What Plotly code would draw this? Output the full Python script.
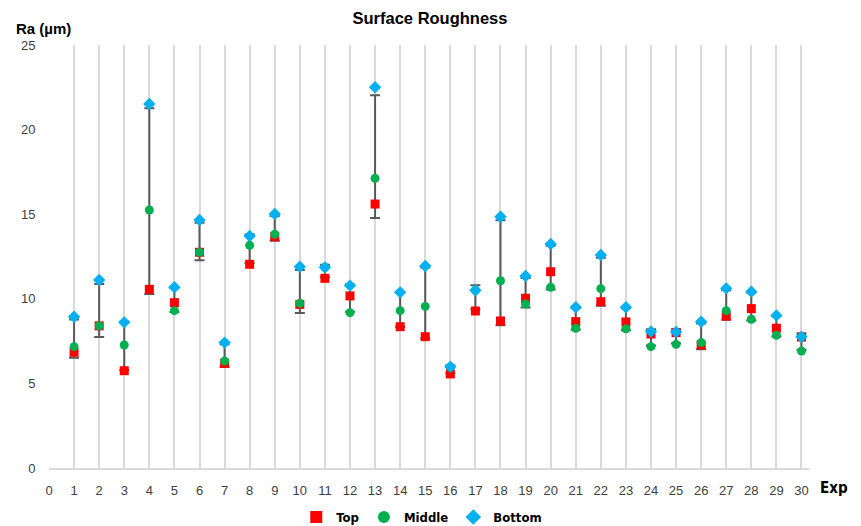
import numpy as np
import plotly.graph_objects as go

exp = list(range(1, 31))
top = [6.84, 8.4, 5.75, 10.56, 9.77, 12.75, 6.19, 12.04, 13.67, 9.67,
       11.21, 10.17, 15.6, 8.35, 7.76, 5.56, 9.28, 8.69, 10.03, 11.6,
       8.65, 9.83, 8.63, 7.92, 8.0, 7.27, 8.98, 9.42, 8.26, 7.74]
middle = [7.17, 8.4, 7.27, 15.25, 9.3, 12.75, 6.32, 13.16, 13.81, 9.73,
          11.85, 9.18, 17.12, 9.3, 9.55, 5.95, 10.5, 11.07, 9.69, 10.68,
          8.26, 10.6, 8.23, 7.17, 7.31, 7.41, 9.3, 8.79, 7.84, 6.91]
bottom = [8.94, 11.11, 8.61, 21.51, 10.68, 14.66, 7.41, 13.71, 15.01, 11.9,
          11.86, 10.78, 22.5, 10.38, 11.94, 5.99, 10.5, 14.85, 11.35, 13.24,
          9.5, 12.59, 9.5, 8.06, 8.04, 8.65, 10.62, 10.42, 9.02, 7.76]

y_ticks = [0, 5, 10, 15, 20, 25]
x_ticks = list(range(0, 31))

arr = np.array([top, middle, bottom])
mean = arr.mean(axis=0)
std = arr.std(axis=0, ddof=1)

narrow = "DejaVu Sans Condensed, Liberation Sans, Arial, sans-serif"
sans = "Liberation Sans, Arial, sans-serif"

# page body has an 8px margin; figure is sized/positioned to compensate
W, H = 853, 518
L, R, T, B = 41, 51.5, 37, 58
pw = W - L - R
ph = H - T - B

fig = go.Figure()
fig.add_trace(go.Scatter(
    x=exp, y=mean, mode="markers",
    marker=dict(size=1, color="rgba(0,0,0,0)"),
    error_y=dict(type="data", array=std, visible=True, color="#595959",
                 thickness=2, width=5),
    showlegend=False, hoverinfo="skip"))
fig.add_trace(go.Scatter(x=exp, y=top, mode="markers", name="<b>Top</b>",
                         marker=dict(symbol="square", size=9, color="#FF0000")))
fig.add_trace(go.Scatter(x=exp, y=middle, mode="markers", name="<b>Middle</b>",
                         marker=dict(symbol="circle", size=9, color="#00B050")))
fig.add_trace(go.Scatter(x=exp, y=bottom, mode="markers", name="<b>Bottom</b>",
                         marker=dict(symbol="diamond", size=9.5, color="#00B0F0")))

fig.update_layout(
    width=W, height=H,
    margin=dict(l=L, r=R, t=T, b=B, autoexpand=False),
    paper_bgcolor="white", plot_bgcolor="white",
    title=dict(text="<b>Surface Roughness</b>", x=(430 - 8) / W, xanchor="center",
               y=1 - 10 / H, yanchor="middle",
               font=dict(family=sans, size=16.5, color="#000000")),
    xaxis=dict(range=[0, 30.3], tickvals=x_ticks, ticktext=[str(v) for v in x_ticks],
               automargin=False,
               showgrid=True, gridcolor="#D9D9D9", gridwidth=1.5,
               showline=True, linecolor="#D9D9D9", linewidth=1.5,
               zeroline=False, ticks="outside", ticklen=10, tickcolor="rgba(0,0,0,0)",
               tickfont=dict(family=sans, size=13, color="#404040")),
    yaxis=dict(range=[0, 25], tickvals=y_ticks, showgrid=False, zeroline=False,
               automargin=False,
               showline=False, ticks="outside", ticklen=10, tickcolor="rgba(0,0,0,0)",
               tickfont=dict(family=sans, size=13, color="#404040")),
    legend=dict(orientation="h", x=(422 - 8 - L) / pw, xanchor="center",
                yref="container", y=(H - (517 - 8)) / H, yanchor="middle",
                font=dict(family=narrow, size=13, color="#000000"),
                itemsizing="constant", itemwidth=30, tracegroupgap=0),
    annotations=[
        dict(text="<b>Ra (µm)</b>", xref="paper", yref="paper",
             x=(14 - 8 - L) / pw, y=1 + (45 - 29) / ph, xanchor="left", yanchor="middle",
             showarrow=False, font=dict(family=sans, size=15, color="#000000")),
        dict(text="<b>Exp</b>", xref="paper", yref="paper",
             x=(819 - 8 - L) / pw, y=-20 / ph, xanchor="left", yanchor="middle",
             showarrow=False, font=dict(family=narrow, size=15, color="#000000")),
    ],
)

fig.write_html("out.html")
